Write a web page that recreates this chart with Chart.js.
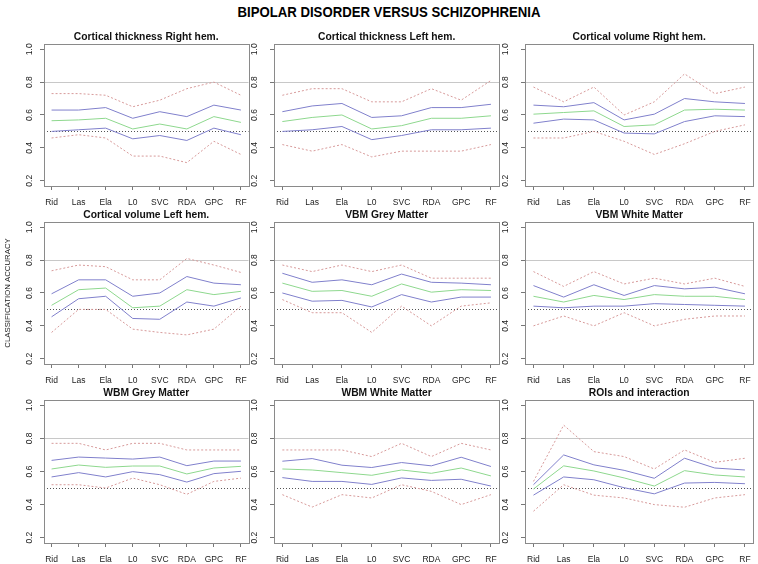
<!DOCTYPE html>
<html>
<head>
<meta charset="utf-8">
<script src="https://cdn.jsdelivr.net/npm/chart.js@4.4.0/dist/chart.umd.min.js"></script>
<style>
html, body { margin: 0; padding: 0; background: #fff; width: 758px; height: 564px; overflow: hidden; position: relative; }
canvas { position: absolute; }
#mainTitle { position: absolute; left: 389px; top: 3px; font: bold 15px "Liberation Sans", Arial, sans-serif; white-space: nowrap; color: #000; transform-origin: 0 0; }
</style>
</head>
<body>
<div id="mainTitle">BIPOLAR DISORDER VERSUS SCHIZOPHRENIA</div>
<script>
// categories (classifiers)
var methods = ["Rid", "Las", "Ela", "L0", "SVC", "RDA", "GPC", "RF"];
var yTicks = [0.2, 0.4, 0.6, 0.8, 1.0];
var refLines = [0.8, 0.5];

// Cortical thickness Right hem.
var ctrHiCI = [0.73, 0.73, 0.72, 0.65, 0.69, 0.76, 0.80, 0.72];
var ctrHi   = [0.63, 0.63, 0.645, 0.58, 0.62, 0.59, 0.66, 0.63];
var ctrMean = [0.565, 0.57, 0.58, 0.515, 0.545, 0.515, 0.59, 0.555];
var ctrLo   = [0.50, 0.51, 0.52, 0.455, 0.475, 0.445, 0.52, 0.48];
var ctrLoCI = [0.46, 0.48, 0.46, 0.35, 0.35, 0.31, 0.44, 0.36];

// Cortical thickness Left hem.
var ctlHiCI = [0.72, 0.76, 0.76, 0.68, 0.68, 0.76, 0.69, 0.81];
var ctlHi   = [0.62, 0.655, 0.67, 0.585, 0.595, 0.645, 0.645, 0.665];
var ctlMean = [0.56, 0.585, 0.60, 0.515, 0.535, 0.58, 0.58, 0.595];
var ctlLo   = [0.50, 0.51, 0.53, 0.45, 0.475, 0.51, 0.51, 0.52];
var ctlLoCI = [0.42, 0.38, 0.42, 0.345, 0.38, 0.38, 0.38, 0.42];

// Cortical volume Right hem.
var cvrHiCI = [0.77, 0.68, 0.77, 0.60, 0.68, 0.85, 0.73, 0.77];
var cvrHi   = [0.66, 0.65, 0.675, 0.57, 0.605, 0.70, 0.68, 0.67];
var cvrMean = [0.605, 0.615, 0.625, 0.53, 0.54, 0.63, 0.635, 0.63];
var cvrLo   = [0.55, 0.575, 0.57, 0.49, 0.485, 0.56, 0.595, 0.59];
var cvrLoCI = [0.46, 0.46, 0.50, 0.44, 0.36, 0.425, 0.50, 0.54];

// Cortical volume Left hem.
var cvlHiCI = [0.735, 0.77, 0.76, 0.68, 0.68, 0.81, 0.77, 0.725];
var cvlHi   = [0.595, 0.68, 0.68, 0.58, 0.60, 0.70, 0.66, 0.65];
var cvlMean = [0.525, 0.62, 0.63, 0.51, 0.52, 0.62, 0.59, 0.61];
var cvlLo   = [0.455, 0.565, 0.58, 0.445, 0.44, 0.545, 0.52, 0.57];
var cvlLoCI = [0.36, 0.50, 0.50, 0.38, 0.36, 0.345, 0.38, 0.52];

// VBM Grey Matter
var vgmHiCI = [0.77, 0.73, 0.77, 0.73, 0.77, 0.69, 0.69, 0.69];
var vgmHi   = [0.72, 0.665, 0.68, 0.65, 0.715, 0.665, 0.66, 0.65];
var vgmMean = [0.66, 0.61, 0.615, 0.58, 0.655, 0.605, 0.62, 0.615];
var vgmLo   = [0.60, 0.55, 0.555, 0.515, 0.59, 0.545, 0.575, 0.575];
var vgmLoCI = [0.56, 0.48, 0.48, 0.36, 0.52, 0.40, 0.52, 0.54];

// VBM White Matter
var vwmHiCI = [0.73, 0.64, 0.73, 0.655, 0.69, 0.655, 0.69, 0.64];
var vwmHi   = [0.645, 0.575, 0.65, 0.585, 0.645, 0.625, 0.635, 0.595];
var vwmMean = [0.58, 0.545, 0.585, 0.56, 0.59, 0.58, 0.58, 0.56];
var vwmLo   = [0.52, 0.51, 0.52, 0.52, 0.535, 0.53, 0.525, 0.52];
var vwmLoCI = [0.40, 0.46, 0.40, 0.48, 0.40, 0.44, 0.46, 0.46];

// WBM Grey Matter
var wgmHiCI = [0.77, 0.77, 0.73, 0.77, 0.77, 0.73, 0.73, 0.73];
var wgmHi   = [0.667, 0.687, 0.681, 0.675, 0.687, 0.635, 0.663, 0.663];
var wgmMean = [0.615, 0.639, 0.625, 0.633, 0.633, 0.585, 0.621, 0.631];
var wgmLo   = [0.567, 0.593, 0.567, 0.599, 0.581, 0.536, 0.587, 0.601];
var wgmLoCI = [0.52, 0.52, 0.50, 0.56, 0.52, 0.462, 0.54, 0.56];

// WBM White Matter
var wwmHiCI = [0.73, 0.73, 0.73, 0.69, 0.77, 0.69, 0.77, 0.73];
var wwmHi   = [0.662, 0.678, 0.638, 0.624, 0.654, 0.634, 0.686, 0.63];
var wwmMean = [0.615, 0.609, 0.593, 0.577, 0.609, 0.589, 0.621, 0.573];
var wwmLo   = [0.563, 0.54, 0.54, 0.522, 0.561, 0.546, 0.553, 0.512];
var wwmLoCI = [0.46, 0.385, 0.46, 0.44, 0.52, 0.48, 0.40, 0.46];

// ROIs and interaction
var roiHiCI = [0.54, 0.88, 0.72, 0.69, 0.615, 0.73, 0.655, 0.68];
var roiHi   = [0.52, 0.70, 0.64, 0.607, 0.559, 0.68, 0.621, 0.609];
var roiMean = [0.494, 0.634, 0.603, 0.561, 0.512, 0.605, 0.579, 0.567];
var roiLo   = [0.457, 0.567, 0.55, 0.502, 0.465, 0.53, 0.534, 0.526];
var roiLoCI = [0.36, 0.52, 0.457, 0.44, 0.40, 0.384, 0.44, 0.46];

var panels = [
  { title: "Cortical thickness Right hem.", series: [ctrHiCI, ctrHi, ctrMean, ctrLo, ctrLoCI] },
  { title: "Cortical thickness Left hem.",  series: [ctlHiCI, ctlHi, ctlMean, ctlLo, ctlLoCI] },
  { title: "Cortical volume Right hem.",    series: [cvrHiCI, cvrHi, cvrMean, cvrLo, cvrLoCI] },
  { title: "Cortical volume Left hem.",     series: [cvlHiCI, cvlHi, cvlMean, cvlLo, cvlLoCI] },
  { title: "VBM Grey Matter",               series: [vgmHiCI, vgmHi, vgmMean, vgmLo, vgmLoCI] },
  { title: "VBM White Matter",              series: [vwmHiCI, vwmHi, vwmMean, vwmLo, vwmLoCI] },
  { title: "WBM Grey Matter",               series: [wgmHiCI, wgmHi, wgmMean, wgmLo, wgmLoCI] },
  { title: "WBM White Matter",              series: [wwmHiCI, wwmHi, wwmMean, wwmLo, wwmLoCI] },
  { title: "ROIs and interaction",          series: [roiHiCI, roiHi, roiMean, roiLo, roiLoCI] }
];

// look of the five lines: upper CI, upper, mean, lower, lower CI
var lineStyles = [
  { color: "#d79a9a", dash: [2, 2] },
  { color: "#8080cc", dash: [] },
  { color: "#8ed88e", dash: [] },
  { color: "#8080cc", dash: [] },
  { color: "#d79a9a", dash: [2, 2] }
];

// plot box of every column / row (pixels)
var colBox = [[44, 252], [274, 502], [525, 756]];
var rowBox = [[44, 186], [222, 364], [400, 543]];
var FONT = '"Liberation Sans", Arial, sans-serif';

// main title squeezed to the width of the original
var mt = document.getElementById("mainTitle");
var s = 303 / mt.offsetWidth;
mt.style.transform = "scaleX(" + s + ") translateX(-50%)";

var boxPlugin = {
  id: "boxAndRefs",
  beforeDatasetsDraw: function (chart) {
    var a = chart.chartArea, ctx = chart.ctx, y = chart.scales.y;
    ctx.save();
    ctx.lineWidth = 1;
    // 0.8 line
    ctx.strokeStyle = "#c8c8c8";
    ctx.setLineDash([]);
    var p = Math.round(y.getPixelForValue(refLines[0])) + 0.5;
    ctx.beginPath(); ctx.moveTo(a.left, p); ctx.lineTo(a.right, p); ctx.stroke();
    // 0.5 line
    ctx.strokeStyle = "#555";
    ctx.setLineDash([1, 2]);
    p = Math.round(y.getPixelForValue(refLines[1])) + 0.5;
    ctx.beginPath(); ctx.moveTo(a.left, p); ctx.lineTo(a.right, p); ctx.stroke();
    ctx.restore();
  },
  afterDraw: function (chart) {
    var a = chart.chartArea, ctx = chart.ctx;
    ctx.save();
    ctx.strokeStyle = "#8a8a8a";
    ctx.lineWidth = 1;
    ctx.strokeRect(Math.round(a.left) + 0.5, Math.round(a.top) + 0.5,
      Math.round(a.right - a.left), Math.round(a.bottom - a.top));
    ctx.restore();
  }
};

panels.forEach(function (pn, idx) {
  var row = Math.floor(idx / 3), col = idx % 3;
  var axisW = col === 0 ? 44 : 26;
  var tickPad = col === 0 ? 4 : 9;
  var left = colBox[col][0] - axisW;
  var top = rowBox[row][0] - 20;
  var width = colBox[col][1] - left + 2;
  var height = rowBox[row][1] - top + 22;

  var cv = document.createElement("canvas");
  cv.width = width; cv.height = height;
  cv.style.left = left + "px"; cv.style.top = top + "px";
  cv.style.width = width + "px"; cv.style.height = height + "px";
  document.body.appendChild(cv);

  var datasets = pn.series.map(function (vals, k) {
    return {
      data: vals.map(function (v, i) { return { x: i + 1, y: v }; }),
      borderColor: lineStyles[k].color,
      borderDash: lineStyles[k].dash,
      borderWidth: 1,
      pointRadius: 0,
      tension: 0,
      fill: false
    };
  });

  new Chart(cv.getContext("2d"), {
    type: "line",
    data: { datasets: datasets },
    options: {
      responsive: false,
      animation: false,
      devicePixelRatio: 1,
      layout: { padding: { left: 0, right: 2, top: 0, bottom: 0 } },
      plugins: {
        legend: { display: false },
        tooltip: { enabled: false },
        title: {
          display: true,
          fullSize: false,
          text: pn.title,
          color: "#111",
          font: { family: FONT, size: 10.3, weight: "bold" },
          padding: { top: 6.8, bottom: 0.8 }
        }
      },
      scales: {
        x: {
          type: "linear",
          min: 0.72, max: 8.28,
          afterBuildTicks: function (sc) { sc.ticks = methods.map(function (m, i) { return { value: i + 1 }; }); },
          afterFit: function (sc) { sc.height = 22; },
          ticks: {
            autoSkip: false, maxRotation: 0, minRotation: 0, padding: 7.2,
            color: "#222", font: { family: FONT, size: 8.5 },
            callback: function (v) { return methods[Math.round(v) - 1]; }
          },
          grid: { drawOnChartArea: false, drawTicks: true, tickLength: 4, color: "#777" },
          border: { display: false }
        },
        y: {
          min: 0.168, max: 1.032,
          afterBuildTicks: function (sc) { sc.ticks = yTicks.map(function (v) { return { value: v }; }); },
          afterFit: function (sc) { sc.width = axisW; },
          ticks: {
            autoSkip: false, minRotation: 90, maxRotation: 90, crossAlign: "center", padding: tickPad,
            color: "#222", font: { family: FONT, size: 8.5 },
            callback: function (v) { return v.toFixed(1); }
          },
          grid: { drawOnChartArea: false, drawTicks: true, tickLength: 4, color: "#777" },
          border: { display: false },
          title: {
            display: idx === 3,
            text: "CLASSIFICATION ACCURACY",
            color: "#222",
            font: { family: FONT, size: 7.8 },
            padding: { top: 3, bottom: 0 }
          }
        }
      }
    },
    plugins: [boxPlugin]
  });
});
</script>
</body>
</html>
